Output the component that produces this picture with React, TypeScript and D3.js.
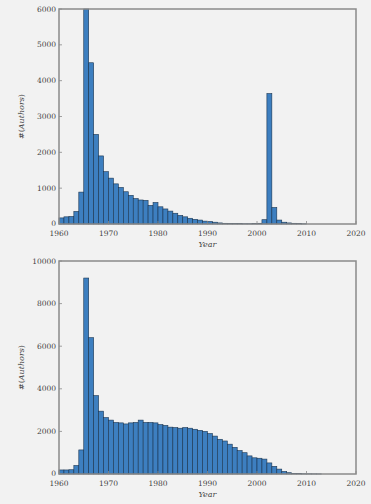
import React from "react";
import * as d3 from "d3";

// bins start at 1960, one year wide
const startYear = 1960;
const topCounts = [170, 200, 210, 350, 890, 6000, 4500, 2500, 1900, 1460, 1280, 1120, 1020, 900, 800, 710, 670, 660, 520, 600, 480, 420, 360, 300, 240, 200, 160, 130, 110, 80, 70, 50, 30, 20, 15, 10, 10, 8, 8, 10, 20, 120, 3640, 460, 110, 50, 30, 20, 10, 5];
const bottomCounts = [190, 190, 200, 400, 1130, 9200, 6400, 3680, 2950, 2650, 2530, 2420, 2400, 2350, 2400, 2420, 2530, 2420, 2420, 2400, 2320, 2280, 2200, 2180, 2150, 2180, 2150, 2100, 2050, 2000, 1900, 1780, 1630, 1550, 1400, 1250, 1100, 1000, 850, 760, 740, 700, 520, 360, 230, 120, 60, 30, 20, 10, 8, 5, 3];
const xTicks = [1960, 1970, 1980, 1990, 2000, 2010, 2020];
const topYTicks = [0, 1000, 2000, 3000, 4000, 5000, 6000];
const bottomYTicks = [0, 2000, 4000, 6000, 8000, 10000];

const W = 371, H = 504;
const left = 59, right = 356;

const Hist = ({ counts, yTicks, yMax, top, bottom }: any) => {
  const x = d3.scaleLinear().domain([1960, 2020]).range([left, right]);
  const y = d3.scaleLinear().domain([0, yMax]).range([bottom, top]);
  return (
    <g>
      {counts.map((c: number, i: number) => {
        const yr = startYear + i;
        const y0 = y(Math.min(c, yMax));
        return (
          <rect key={yr} x={x(yr)} y={y0} width={x(yr + 1) - x(yr)} height={bottom - y0}
            fill="#3d7fc0" stroke="#1b3550" strokeWidth={0.6} />
        );
      })}
      <rect x={left} y={top} width={right - left} height={bottom - top} fill="none" stroke="#8a8a8a" strokeWidth={1.5} />
      {yTicks.map((t: number) => (
        <g key={t}>
          <line x1={left} x2={left + 3} y1={y(t)} y2={y(t)} stroke="#8a8a8a" strokeWidth={0.8} />
          <text x={left - 3} y={t === 0 ? y(t) - 1 : y(t)} dy="0.35em" textAnchor="end" fontSize={7.5} fill="#444" fontFamily="DejaVu Serif">{t}</text>
        </g>
      ))}
      {xTicks.map((t) => (
        <g key={t}>
          <line x1={x(t)} x2={x(t)} y1={bottom} y2={bottom - 3} stroke="#8a8a8a" strokeWidth={0.8} />
          <text x={x(t)} y={bottom + 12} textAnchor="middle" fontSize={7.5} fill="#444" fontFamily="DejaVu Serif">{t}</text>
        </g>
      ))}
      <text x={(left + right) / 2} y={bottom + 23} textAnchor="middle" fontSize={8} fontStyle="italic" fill="#444" fontFamily="DejaVu Serif">Year</text>
      <text transform={`translate(24,${(top + bottom) / 2}) rotate(-90)`} textAnchor="middle" fontSize={8} fill="#444" fontFamily="DejaVu Serif">
        #(<tspan fontStyle="italic">Authors</tspan>)
      </text>
    </g>
  );
};

export default function App() {
  return (
    <svg width={W} height={H} style={{ position: "absolute", left: 0, top: 0, background: "#f2f2f2" }}>
      <rect width={W} height={H} fill="#f2f2f2" />
      <Hist counts={topCounts} yTicks={topYTicks} yMax={6000} top={9} bottom={224} />
      <Hist counts={bottomCounts} yTicks={bottomYTicks} yMax={10000} top={261} bottom={474} />
    </svg>
  );
}
